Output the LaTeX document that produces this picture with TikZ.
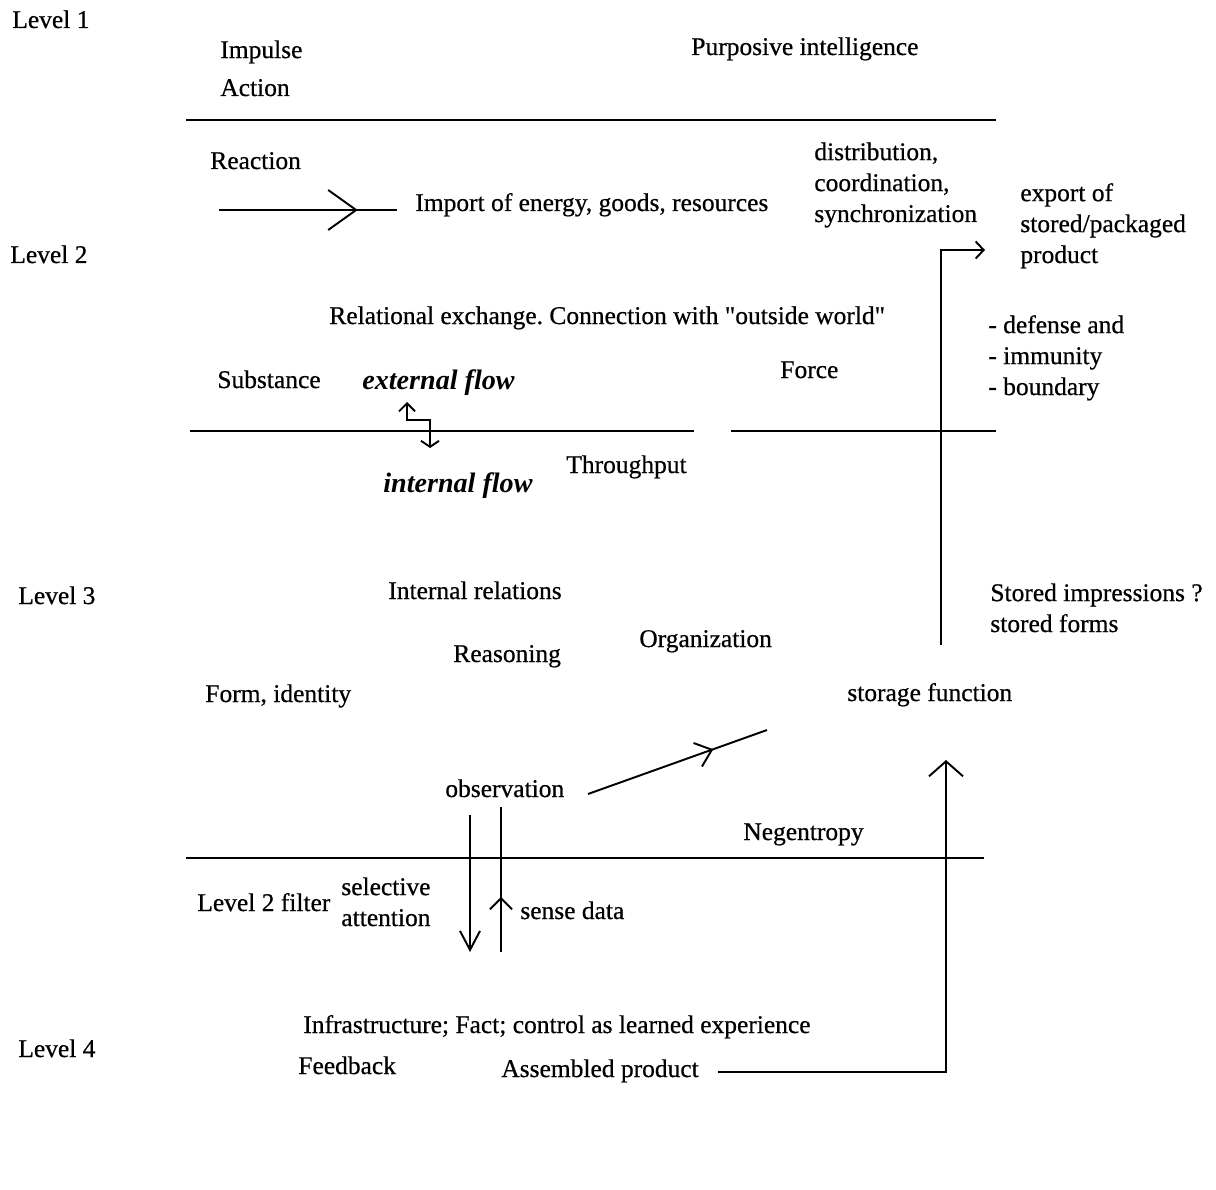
\documentclass[tikz,border=0pt]{standalone}
\usepackage{fontspec}
\setmainfont{Liberation Serif}
\newfontfamily\lblfont{Liberation Serif}[FakeBold=0.6]
\usetikzlibrary{arrows.meta,decorations.markings}
\tikzset{
    lbl/.style = {anchor=base west, inner sep=0pt, align=left, font=\fontsize{14.5}{17.6}\lblfont},
    flow-lbl/.style = {lbl, font=\fontsize{16}{19}\selectfont\bfseries\itshape},
    rule/.style = {line width=1.1pt},
    conn/.style = {line width=1.1pt},
    mid-barb/.style 2 args = {postaction={decorate}, decoration={markings, mark=at position #1 with {\arrow{#2}}}},
}
\frenchspacing

\begin{document}
\begin{tikzpicture}[x=0.02cm, y=-0.02cm]
\useasboundingbox (0,0) rectangle (1216,1189);

% level names
\node[lbl] (lev1) at (12,28) {Level 1};
\node[lbl] (lev2) at (10,263) {Level 2};
\node[lbl] (lev3) at (18,604) {Level 3};
\node[lbl] (lev4) at (18,1057) {Level 4};

% level 1 (multi-line nodes sit on their last line)
\node[lbl] (impulse) at (220,96) {Impulse\\[4pt]Action};
\node[lbl] (purpose) at (691,55) {Purposive intelligence};
\draw[rule] (186,120) -- (996,120);

% level 2
\node[lbl] (reaction) at (210,169) {Reaction};
\node[lbl] (import) at (415,211) {Import of energy, goods, resources};
\node[lbl] (distrib) at (814,222) {distribution,\\coordination,\\synchronization};
\node[lbl] (export) at (1020,263) {export of\\stored/packaged\\product};
\node[lbl] (relational) at (329,324) {Relational exchange. Connection with \textquotedbl outside world\textquotedbl};
\node[lbl] (defense) at (988,395) {- defense and\\- immunity\\- boundary};
\node[lbl] (substance) at (217,388) {Substance};
\node[flow-lbl] (extflow) at (362,389) {external flow};
\node[lbl] (force) at (780,378) {Force};
\draw[rule] (190,431) -- (694,431);
\draw[rule] (731,431) -- (996,431);
\node[flow-lbl] (intflow) at (383,492) {internal flow};
\node[lbl] (throughput) at (566,473) {Throughput};

% level 3
\node[lbl] (intrel) at (388,599) {Internal relations};
\node[lbl] (stored) at (990,632) {Stored impressions ?\\stored forms};
\node[lbl] (reasoning) at (453,662) {Reasoning};
\node[lbl] (organization) at (639,647) {Organization};
\node[lbl] (form) at (205,702) {Form, identity};
\node[lbl] (storage) at (847,701) {storage function};
\node[lbl] (observation) at (445,797) {observation};
\node[lbl] (negentropy) at (743,840) {Negentropy};
\draw[rule] (186,858) -- (984,858);

% level 4
\node[lbl] (filter) at (197,911) {Level 2 filter};
\node[lbl] (selective) at (341,926) {selective\\attention};
\node[lbl] (sense) at (520,919) {sense data};
\node[lbl] (infra) at (303,1033) {Infrastructure; Fact; control as learned experience};
\node[lbl] (feedback) at (298,1074) {Feedback};
\node[lbl] (assembled) at (501,1077) {Assembled product};

% connector ends
\coordinate (reac-from) at (219,210);
\coordinate (reac-to) at (397,210);
\coordinate (ext-tip) at (407,402);
\coordinate (int-tip) at (430,448);
\coordinate (obs-from) at (588,794);
\coordinate (obs-to) at (767,730);
\coordinate (export-from) at (941,645);
\coordinate (export-to) at (985,250);
\coordinate (att-from) at (470,815);
\coordinate (att-to) at (470,952);
\coordinate (sense-from) at (501,952);
\coordinate (sense-to) at (501,807);
\coordinate (assem-from) at (718,1072);
\coordinate (store-to) at (946,760);

% connectors
\draw[conn, mid-barb={0.78}{Straight Barb[length=0.56cm,width=0.8cm]}] (reac-from) -- (reac-to);
\draw[conn, {Straight Barb[length=0.16cm,width=0.32cm]}-{Straight Barb[length=0.12cm,width=0.36cm]}]
    (ext-tip) -- (407,420) -| (int-tip);
\draw[conn, mid-barb={0.70}{Straight Barb[length=0.3cm,width=0.5cm]}] (obs-from) -- (obs-to);
\draw[conn, -{Straight Barb[length=0.16cm,width=0.34cm]}] (export-from) |- (export-to);
\draw[conn, -{Straight Barb[length=0.38cm,width=0.4cm]}] (att-from) -- (att-to);
\draw[conn, mid-barb={0.38}{Straight Barb[length=0.22cm,width=0.44cm]}] (sense-from) -- (sense-to);
\draw[conn, -{Straight Barb[length=0.3cm,width=0.68cm]}] (assem-from) -| (store-to);
\end{tikzpicture}
\end{document}
